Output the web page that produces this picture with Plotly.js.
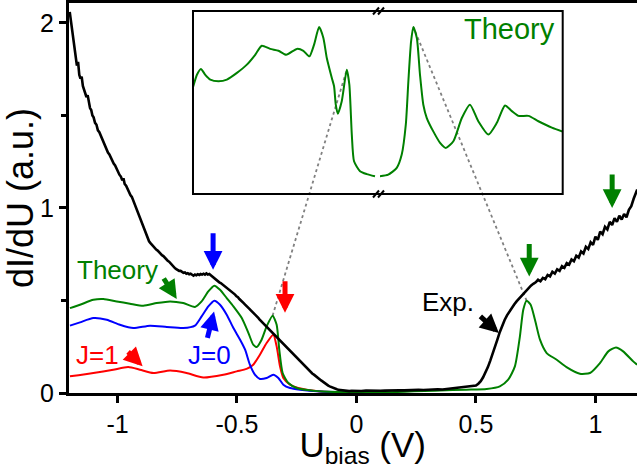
<!DOCTYPE html>
<html>
<head>
<meta charset="utf-8">
<script src="https://cdn.plot.ly/plotly-3.0.1.min.js"></script>
<style>
  html, body { margin: 0; padding: 0; background: #fff; overflow: hidden; }
  #chart { width: 637px; height: 469px; }
</style>
</head>
<body>
<div id="chart"></div>
<script>
// ---- Experimental dI/dU (black) ----
const expBias = [
  -1.200,-1.195,-1.190,-1.186,-1.182,-1.178,-1.174,-1.170,-1.165,-1.160,-1.155,-1.150,-1.145,-1.140,-1.135,-1.130,
  -1.125,-1.120,-1.115,-1.110,-1.105,-1.100,-1.094,-1.088,-1.082,-1.076,-1.070,-1.064,-1.058,-1.052,-1.046,-1.040,
  -1.034,-1.028,-1.022,-1.016,-1.010,-1.004,-0.998,-0.992,-0.986,-0.980,-0.975,-0.970,-0.964,-0.958,-0.952,-0.946,
  -0.940,-0.934,-0.928,-0.922,-0.916,-0.910,-0.904,-0.898,-0.892,-0.886,-0.880,-0.874,-0.868,-0.862,-0.856,-0.850,
  -0.844,-0.838,-0.832,-0.826,-0.820,-0.814,-0.808,-0.802,-0.796,-0.790,-0.784,-0.778,-0.772,-0.766,-0.760,-0.754,
  -0.748,-0.742,-0.736,-0.730,-0.724,-0.718,-0.712,-0.706,-0.700,-0.694,-0.688,-0.682,-0.676,-0.670,-0.664,-0.658,
  -0.652,-0.646,-0.640,-0.634,-0.628,-0.622,-0.616,-0.610,-0.604,-0.598,-0.592,-0.586,-0.580,-0.574,-0.568,-0.562,
  -0.556,-0.550,-0.544,-0.538,-0.532,-0.526,-0.520,-0.514,-0.508,-0.502,-0.496,-0.490,-0.484,-0.478,-0.472,-0.466,
  -0.460,-0.454,-0.448,-0.442,-0.436,-0.430,-0.424,-0.418,-0.412,-0.406,-0.400,-0.394,-0.388,-0.382,-0.376,-0.370,
  -0.364,-0.358,-0.352,-0.346,-0.340,-0.334,-0.328,-0.322,-0.316,-0.310,-0.304,-0.298,-0.292,-0.286,-0.280,-0.274,
  -0.268,-0.262,-0.256,-0.250,-0.244,-0.238,-0.232,-0.226,-0.220,-0.214,-0.208,-0.202,-0.196,-0.190,-0.184,-0.178,
  -0.172,-0.166,-0.160,-0.154,-0.148,-0.142,-0.136,-0.130,-0.124,-0.118,-0.112,-0.106,-0.100,-0.094,-0.088,-0.082,
  -0.076,-0.070,-0.060,-0.050,-0.040,-0.030,-0.020,-0.010,0.000,0.020,0.040,0.060,0.080,0.100,0.120,0.140,
  0.160,0.180,0.200,0.220,0.240,0.260,0.280,0.300,0.320,0.340,0.360,0.380,0.400,0.420,0.440,0.460,
  0.480,0.500,0.510,0.520,0.530,0.540,0.550,0.560,0.570,0.580,0.590,0.600,0.610,0.620,0.630,0.640,
  0.650,0.660,0.670,0.680,0.690,0.700,0.710,0.720,0.730,0.740,0.750,0.760,0.770,0.780,0.790,0.800,
  0.810,0.820,0.830,0.840,0.850,0.860,0.870,0.880,0.890,0.900,0.910,0.920,0.930,0.940,0.950,0.960,
  0.970,0.980,0.990,1.000,1.010,1.020,1.030,1.040,1.050,1.060,1.070,1.080,1.090,1.100,1.110,1.120,
  1.130,1.140,1.150,1.160,1.170,1.175
];
const expDIdU = [
  2.06,2.01,1.95,1.93,1.90,1.84,1.80,1.77,1.79,1.72,1.70,1.71,1.66,1.64,1.62,1.60,
  1.61,1.56,1.54,1.53,1.50,1.49,1.46,1.45,1.42,1.41,1.39,1.37,1.36,1.33,1.32,1.30,
  1.29,1.27,1.26,1.24,1.23,1.21,1.20,1.18,1.17,1.15,1.16,1.13,1.12,1.10,1.09,1.07,
  1.06,1.04,1.02,1.00,0.98,0.96,0.94,0.91,0.89,0.87,0.855,0.84,0.82,0.81,0.80,0.79,
  0.785,0.775,0.77,0.76,0.755,0.745,0.74,0.73,0.725,0.715,0.71,0.70,0.69,0.685,0.675,0.67,
  0.665,0.66,0.66,0.655,0.650,0.652,0.645,0.648,0.642,0.645,0.640,0.634,0.640,0.636,0.642,0.638,
  0.643,0.640,0.645,0.640,0.646,0.640,0.643,0.636,0.632,0.626,0.620,0.612,0.606,0.598,0.594,0.588,
  0.582,0.577,0.572,0.566,0.560,0.554,0.545,0.538,0.532,0.523,0.518,0.508,0.502,0.494,0.486,0.478,
  0.472,0.462,0.455,0.447,0.440,0.430,0.424,0.414,0.408,0.398,0.390,0.382,0.374,0.366,0.358,0.350,
  0.342,0.334,0.328,0.318,0.312,0.304,0.296,0.290,0.280,0.272,0.264,0.256,0.246,0.240,0.230,0.222,
  0.214,0.204,0.198,0.188,0.180,0.172,0.164,0.156,0.148,0.140,0.132,0.126,0.118,0.112,0.104,0.099,
  0.092,0.088,0.080,0.075,0.068,0.063,0.056,0.051,0.045,0.040,0.036,0.032,0.028,0.025,0.021,0.020,
  0.017,0.016,0.014,0.012,0.013,0.010,0.012,0.011,0.013,0.011,0.013,0.012,0.014,0.012,0.013,0.015,
  0.013,0.015,0.014,0.016,0.015,0.017,0.016,0.018,0.017,0.020,0.019,0.022,0.024,0.026,0.030,0.033,
  0.036,0.040,0.050,0.064,0.085,0.110,0.140,0.175,0.210,0.250,0.290,0.330,0.365,0.395,0.420,0.442,
  0.460,0.478,0.495,0.510,0.525,0.540,0.555,0.568,0.580,0.590,0.598,0.612,0.604,0.622,0.615,0.638,
  0.630,0.655,0.645,0.668,0.660,0.685,0.676,0.702,0.694,0.722,0.712,0.742,0.732,0.765,0.754,0.790,
  0.778,0.815,0.800,0.845,0.828,0.872,0.858,0.898,0.884,0.925,0.908,0.945,0.925,0.958,0.938,0.968,
  0.950,0.990,1.010,1.050,1.085,1.100
];

// ---- Theory: total (green), J=0 (blue), J=1 (red) ----
const theoryBias = [
  -1.199,-1.157,-1.101,-1.059,-1.003,-0.948,-0.892,-0.836,-0.780,-0.725,-0.676,-0.648,-0.620,-0.595,-0.571,-0.543,
  -0.515,-0.480,-0.452,-0.432,-0.417,-0.397,-0.376,-0.351,-0.334,-0.323,-0.309,-0.285,-0.250,-0.180,-0.083,0.100,
  0.349,0.461,0.545,0.600,0.635,0.663,0.684,0.698,0.712,0.729,0.747,0.768,0.796,0.838,0.879,0.935,
  0.977,1.019,1.054,1.086,1.116,1.158,1.174
];
const theoryTotal = [
  0.459,0.477,0.504,0.508,0.495,0.483,0.472,0.486,0.495,0.486,0.465,0.495,0.549,0.580,0.558,0.513,
  0.468,0.405,0.324,0.261,0.249,0.288,0.360,0.418,0.369,0.234,0.108,0.054,0.027,0.012,0.005,0.004,
  0.014,0.018,0.022,0.036,0.072,0.144,0.306,0.450,0.499,0.477,0.396,0.288,0.216,0.180,0.140,0.104,
  0.108,0.162,0.225,0.246,0.225,0.171,0.153
];

const j0Bias = [
  -1.199,-1.157,-1.101,-1.045,-0.990,-0.934,-0.864,-0.794,-0.725,-0.676,-0.648,-0.620,-0.595,-0.571,-0.543,-0.515,
  -0.487,-0.466,-0.446,-0.425,-0.404,-0.376,-0.348,-0.327,-0.306,-0.278,-0.236,-0.150,-0.050
];
const j0Values = [
  0.364,0.382,0.405,0.396,0.369,0.351,0.364,0.357,0.351,0.364,0.414,0.468,0.499,0.477,0.423,0.351,
  0.288,0.234,0.153,0.099,0.076,0.081,0.099,0.081,0.045,0.027,0.018,0.008,0.004
];

const j1Bias = [
  -1.199,-1.101,-1.018,-0.955,-0.906,-0.850,-0.780,-0.711,-0.641,-0.557,-0.501,-0.460,-0.432,-0.404,-0.376,-0.348,
  -0.334,-0.320,-0.306,-0.278,-0.244,-0.160,-0.050
];
const j1Values = [
  0.090,0.108,0.126,0.140,0.126,0.108,0.121,0.108,0.084,0.099,0.117,0.130,0.153,0.207,0.270,0.315,
  0.252,0.144,0.081,0.045,0.027,0.010,0.004
];

// ---- Inset: theory over a wider bias window, split at the gap ----
const insetBiasNeg = [
  -1.780,-1.743,-1.706,-1.665,-1.618,-1.541,-1.463,-1.369,-1.276,-1.198,-1.136,-1.058,-0.980,-0.908,-0.808,-0.747,
  -0.691,-0.647,-0.600,-0.560,-0.528,-0.481,-0.460,-0.444,-0.425,-0.388,-0.341,-0.317,-0.294,-0.273,-0.217,-0.154,
  -0.077
];
const insetValNeg = [
  0.354,0.401,0.423,0.401,0.383,0.377,0.383,0.408,0.439,0.476,0.510,0.498,0.491,0.476,0.498,0.491,
  0.470,0.514,0.580,0.539,0.464,0.389,0.358,0.289,0.255,0.302,0.420,0.364,0.177,0.077,0.040,0.029,
  0.021
];
const insetBiasPos = [
  0.489,0.544,0.600,0.633,0.660,0.677,0.695,0.710,0.733,0.754,0.776,0.799,0.842,0.887,0.925,0.975,
  1.031,1.085,1.140,1.207,1.262,1.317,1.362,1.406,1.472,1.538,1.627,1.704
];
const insetValPos = [
  0.021,0.027,0.052,0.102,0.214,0.377,0.526,0.580,0.539,0.401,0.289,0.239,0.189,0.146,0.127,0.152,
  0.239,0.289,0.227,0.177,0.220,0.286,0.265,0.247,0.247,0.227,0.203,0.187
];

// Axis tick labels
const xTickVals = [-1, -0.5, 0, 0.5, 1];
const xTickText = ['-1', '-0.5', '0', '0.5', '1'];
const yTickVals = [0, 1, 2];
const yTickText = ['0', '1', '2'];

// ---- Layout geometry ----
const W = 637, H = 469;
const margin = { l: 69, r: 0, t: 3, b: 76, pad: 0 };
const xRange = [-1.203, 1.174];
const yRange = [0, 2.108];

const insetDomX1 = [0.2183, 0.5423];
const insetDomX2 = [0.5475, 0.8692];
const insetDomY = [0.5103, 0.9795];
const insetRangeX1 = [-1.78, -0.058];
const insetRangeX2 = [0.489, 1.699];
const insetRangeY = [-0.0455, 0.640];

const GREEN = '#008000', BLUE = '#0000ff', RED = '#ff0000';
const FONT = 'Liberation Sans, Arial, Helvetica, sans-serif';

// map a value on an inset axis to the main data axes
function lin(v, r, d) { return d[0] + (v - r[0]) / (r[1] - r[0]) * (d[1] - d[0]); }
function insetToMain(xv, yv, rx, dx) {
  const px = lin(xv, rx, dx);
  const py = lin(yv, insetRangeY, insetDomY);
  return [xRange[0] + px * (xRange[1] - xRange[0]), yRange[0] + py * (yRange[1] - yRange[0])];
}
function peakIn(xs, ys, lo, hi) {
  let best = -1;
  for (let i = 0; i < xs.length; i++) {
    if (xs[i] >= lo && xs[i] <= hi && (best < 0 || ys[i] > ys[best])) best = i;
  }
  return [xs[best], ys[best]];
}

// connector lines between main-panel peaks and their inset counterparts
const mainPeakL = peakIn(theoryBias, theoryTotal, -0.40, -0.30);
const insetPeakL = peakIn(insetBiasNeg, insetValNeg, -0.40, -0.30);
const mainPeakR = peakIn(theoryBias, theoryTotal, 0.60, 0.80);
const insetPeakR = peakIn(insetBiasPos, insetValPos, 0.60, 0.80);
const connL = insetToMain(insetPeakL[0], insetPeakL[1], insetRangeX1, insetDomX1);
const connR = insetToMain(insetPeakR[0], insetPeakR[1], insetRangeX2, insetDomX2);

const line = (c, w) => ({ color: c, width: w });

const traces = [
  { x: [mainPeakL[0], connL[0]], y: [mainPeakL[1], connL[1]], mode: 'lines',
    line: { color: '#808080', width: 1.8, dash: 'dot' }, hoverinfo: 'skip' },
  { x: [mainPeakR[0], connR[0]], y: [mainPeakR[1], connR[1]], mode: 'lines',
    line: { color: '#808080', width: 1.8, dash: 'dot' }, hoverinfo: 'skip' },
  { x: j1Bias, y: j1Values, mode: 'lines', line: Object.assign(line(RED, 2), { shape: 'spline', smoothing: 0.6 }), name: 'J=1' },
  { x: j0Bias, y: j0Values, mode: 'lines', line: Object.assign(line(BLUE, 2), { shape: 'spline', smoothing: 0.6 }), name: 'J=0' },
  { x: theoryBias, y: theoryTotal, mode: 'lines', line: Object.assign(line(GREEN, 2), { shape: 'spline', smoothing: 0.6 }), name: 'Theory' },
  { x: expBias, y: expDIdU, mode: 'lines', line: line('#000000', 2.6), name: 'Exp.' },
  { x: insetBiasNeg, y: insetValNeg, xaxis: 'x2', yaxis: 'y2', mode: 'lines',
    line: Object.assign(line(GREEN, 2), { shape: 'spline', smoothing: 0.6 }) },
  { x: insetBiasPos, y: insetValPos, xaxis: 'x3', yaxis: 'y2', mode: 'lines',
    line: Object.assign(line(GREEN, 2), { shape: 'spline', smoothing: 0.6 }) }
];

function arrow(x, y, ax, ay, color) {
  return { x: x, y: y, xref: 'x', yref: 'y', ax: ax, ay: ay, axref: 'pixel', ayref: 'pixel',
           text: '', showarrow: true, arrowhead: 2, arrowsize: 0.75, arrowwidth: 5,
           arrowcolor: color, standoff: 0, startstandoff: 0 };
}
function label(x, y, text, color, size) {
  return { x: x, y: y, xref: 'x', yref: 'y', text: text, showarrow: false,
           font: { family: FONT, size: size, color: color }, xanchor: 'center', yanchor: 'middle' };
}

const annotations = [
  arrow(-0.600, 0.666, 0, -38, BLUE),
  arrow(-0.299, 0.434, 0, -33, RED),
  arrow(0.723, 0.630, 0, -34, GREEN),
  arrow(1.070, 1.000, 0, -35, GREEN),
  arrow(-0.752, 0.508, -14, -22, GREEN),
  arrow(-0.895, 0.144, -16, -16, RED),
  arrow(-0.596, 0.441, -7, 28, BLUE),
  arrow(0.596, 0.324, -20, -18, '#000000'),
  label(-1.000, 0.664, 'Theory', GREEN, 26),
  label(-1.083, 0.207, 'J=1', RED, 26),
  label(-0.613, 0.207, 'J=0', BLUE, 26),
  label(0.385, 0.494, 'Exp.', '#000000', 26),
  { x: 0.776, y: 0.933, xref: 'paper', yref: 'paper', text: 'Theory', showarrow: false,
    font: { family: FONT, size: 29, color: GREEN }, xanchor: 'center', yanchor: 'middle' }
];

// inset frame and axis-break marks
const breakX = (insetDomX1[1] + insetDomX2[0]) / 2;
function slash(yAnchor, dx, yLo, yHi) {
  return { type: 'line', xref: 'paper', yref: 'paper', xsizemode: 'pixel', ysizemode: 'pixel',
           xanchor: breakX, yanchor: yAnchor, x0: dx - 3, x1: dx + 3, y0: yLo, y1: yHi,
           line: { color: '#000', width: 2 }, layer: 'above' };
}
const shapes = [
  { type: 'rect', xref: 'paper', yref: 'paper', x0: insetDomX1[0], x1: insetDomX2[1],
    y0: insetDomY[0], y1: insetDomY[1], line: { color: '#000', width: 2 }, layer: 'above' },
  slash(insetDomY[1], -2.5, -3.5, 3.5), slash(insetDomY[1], 2.5, -3.5, 3.5),
  slash(insetDomY[0], -2.5, -3.5, 3.5), slash(insetDomY[0], 2.5, -3.5, 3.5)
];

const hidden = { showline: false, showgrid: false, zeroline: false, showticklabels: false, ticks: '', fixedrange: true };

const layout = {
  width: W, height: H, margin: margin,
  paper_bgcolor: '#ffffff', plot_bgcolor: 'rgba(0,0,0,0)',
  showlegend: false,
  font: { family: FONT, color: '#000' },
  xaxis: {
    range: xRange, domain: [0, 1], anchor: 'y',
    showline: true, linecolor: '#000', linewidth: 3, mirror: true,
    ticks: 'outside', ticklen: 7, tickwidth: 3, tickcolor: '#000',
    tickvals: xTickVals, ticktext: xTickText,
    tickfont: { family: FONT, size: 25, color: '#000' },
    showgrid: false, zeroline: false, automargin: false,
    title: { text: '&nbsp;&nbsp;U<sub>bias</sub> (V)', font: { family: FONT, size: 35, color: '#000' } }
  },
  yaxis: {
    range: yRange, domain: [0, 1], anchor: 'x',
    showline: true, linecolor: '#000', linewidth: 3, mirror: false,
    ticks: 'outside', ticklen: 7, tickwidth: 3, tickcolor: '#000',
    tickvals: yTickVals, ticktext: yTickText,
    minor: { tickvals: [0.5, 1.5], ticklen: 5, tickwidth: 3, tickcolor: '#000', ticks: 'outside' },
    tickfont: { family: FONT, size: 25, color: '#000' },
    showgrid: false, zeroline: false, automargin: false,
    title: { text: 'dI/dU (a.u.)', font: { family: FONT, size: 36, color: '#000' }, standoff: 4 }
  },
  xaxis2: Object.assign({ range: insetRangeX1, domain: insetDomX1, anchor: 'y2' }, hidden),
  xaxis3: Object.assign({ range: insetRangeX2, domain: insetDomX2, anchor: 'y2' }, hidden),
  yaxis2: Object.assign({ range: insetRangeY, domain: insetDomY, anchor: 'x2' }, hidden),
  annotations: annotations,
  shapes: shapes
};

Plotly.newPlot('chart', traces, layout, { displayModeBar: false, staticPlot: true });
</script>
</body>
</html>
